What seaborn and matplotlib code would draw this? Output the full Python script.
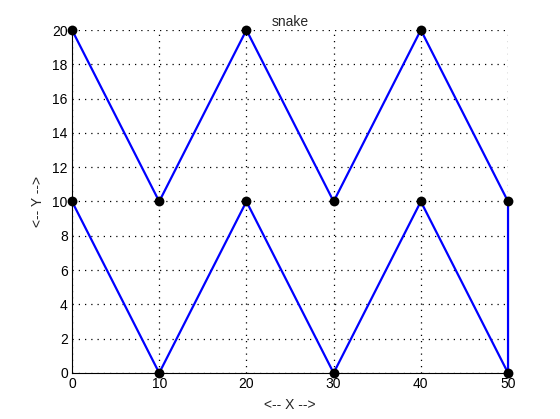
import matplotlib
matplotlib.use("Agg")
import matplotlib.pyplot as plt
import seaborn as sns
import pandas as pd

x_vals = [0, 10, 20, 30, 40, 50, 50, 40, 30, 20, 10, 0]
y_vals = [20, 10, 20, 10, 20, 10, 0, 10, 0, 10, 0, 10]
x_ticks = [0, 10, 20, 30, 40, 50]
y_ticks = [0, 2, 4, 6, 8, 10, 12, 14, 16, 18, 20]

sns.set_style("white")
plt.rcParams['font.family'] = ['Liberation Sans', 'DejaVu Sans']
df = pd.DataFrame({"x": x_vals, "y": y_vals, "order": range(len(x_vals))})

fig = plt.figure(figsize=(5.6, 4.19), dpi=100)
ax = fig.add_axes([0.1286, 0.1098, 0.7786, 0.8186])
sns.lineplot(data=df, x="x", y="y", sort=False, estimator=None, color="#0000ff",
             linewidth=1.6, ax=ax, zorder=3)
for ln in ax.lines:
    ln.set_clip_on(False)
sns.scatterplot(data=df, x="x", y="y", color="black", s=50, edgecolor="black",
                linewidth=0, ax=ax, zorder=4, clip_on=False)

ax.set_xlim(0, 50)
ax.set_ylim(0, 20)
ax.set_xticks(x_ticks)
ax.set_yticks(y_ticks)
ax.grid(True, color="black", linestyle=(0, (1, 4)), linewidth=0.9)
for s in ["top", "right"]:
    ax.spines[s].set_visible(False)
for s in ["left", "bottom"]:
    ax.spines[s].set_color("black")
    ax.spines[s].set_linewidth(0.8)
ax.tick_params(direction="in", length=4, labelsize=10, colors="black", pad=3)
ax.set_title("snake", fontsize=10, pad=3)
ax.set_xlabel("<-- X -->", fontsize=10, labelpad=5)
ax.set_ylabel("<-- Y -->", fontsize=10, labelpad=5)
fig.savefig("out.png", dpi=100)
